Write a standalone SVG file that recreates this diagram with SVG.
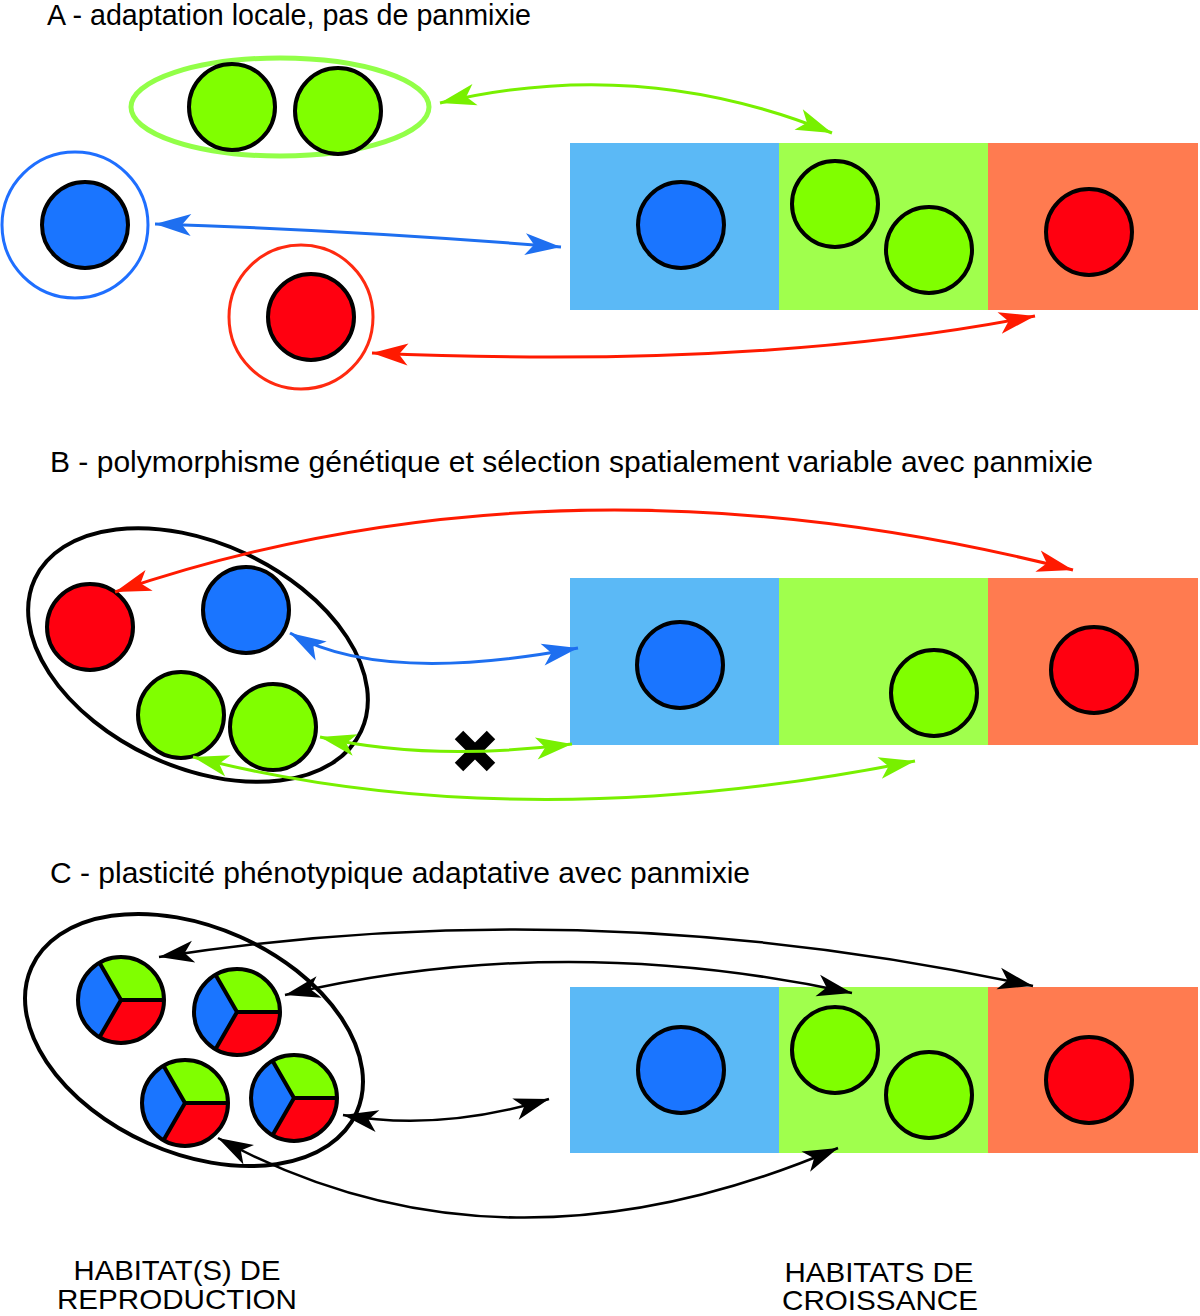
<svg xmlns="http://www.w3.org/2000/svg" width="1200" height="1316" viewBox="0 0 1200 1316">
<style>
.title{font-family:"Liberation Sans",Arial,sans-serif;font-size:29px;fill:#000}
.label{font-family:"Liberation Sans",Arial,sans-serif;font-size:28px;fill:#000}
.hb{fill:#5BB9F6}.hg{fill:#A0FF4D}.hr{fill:#FF7B50}
.cb{fill:#1A75FF;stroke:#000;stroke-width:4}
.cg{fill:#80FF00;stroke:#000;stroke-width:4}
.cr{fill:#FF0010;stroke:#000;stroke-width:4}
.arr{fill:none;stroke-width:3}
.ag{stroke:#78F000;marker-start:url(#mg);marker-end:url(#mg)}
.ab{stroke:#1E6FF0;marker-start:url(#mb);marker-end:url(#mb)}
.ar{stroke:#FF1A00;marker-start:url(#mr);marker-end:url(#mr)}
.ak{stroke:#000;stroke-width:2.5;marker-start:url(#mk);marker-end:url(#mk)}
</style>
<defs>
<marker id="mg" markerUnits="userSpaceOnUse" viewBox="-40 -15 42 30" markerWidth="42" markerHeight="30" refX="0" refY="0" orient="auto-start-reverse"><path d="M0,0 L-36,-11 L-27,0 L-36,11 Z" fill="#78F000"/></marker>
<marker id="mb" markerUnits="userSpaceOnUse" viewBox="-40 -15 42 30" markerWidth="42" markerHeight="30" refX="0" refY="0" orient="auto-start-reverse"><path d="M0,0 L-36,-11 L-27,0 L-36,11 Z" fill="#1E6FF0"/></marker>
<marker id="mr" markerUnits="userSpaceOnUse" viewBox="-40 -15 42 30" markerWidth="42" markerHeight="30" refX="0" refY="0" orient="auto-start-reverse"><path d="M0,0 L-36,-11 L-27,0 L-36,11 Z" fill="#FF1A00"/></marker>
<marker id="mk" markerUnits="userSpaceOnUse" viewBox="-40 -15 42 30" markerWidth="42" markerHeight="30" refX="0" refY="0" orient="auto-start-reverse"><path d="M0,0 L-35,-11 L-26,0 L-35,11 Z" fill="#000"/></marker>
<g id="pie">
<path d="M0,0 L-21.5,-37.24 A43,43 0 0 1 43,0 Z" fill="#80FF00"/>
<path d="M0,0 L43,0 A43,43 0 0 1 -21.5,37.24 Z" fill="#FF0010"/>
<path d="M0,0 L-21.5,37.24 A43,43 0 0 1 -21.5,-37.24 Z" fill="#1A75FF"/>
<path d="M43,0 L0,0 L-21.5,-37.24 M0,0 L-21.5,37.24" fill="none" stroke="#000" stroke-width="4"/>
<circle r="43" fill="none" stroke="#000" stroke-width="4"/>
</g>
</defs>
<rect width="1200" height="1316" fill="#fff"/>

<g id="titles">
<text class="title" x="47" y="25" textLength="484" lengthAdjust="spacingAndGlyphs">A - adaptation locale, pas de panmixie</text>
<text class="title" x="50" y="472" textLength="1043" lengthAdjust="spacingAndGlyphs">B - polymorphisme génétique et sélection spatialement variable avec panmixie</text>
<text class="title" x="50" y="883" textLength="700" lengthAdjust="spacingAndGlyphs">C - plasticité phénotypique adaptative avec panmixie</text>
</g>

<!-- Panel A -->
<g id="A-habitats">
<rect class="hb" x="570" y="143" width="209" height="167"/>
<rect class="hg" x="779" y="143" width="209" height="167"/>
<rect class="hr" x="988" y="143" width="210" height="167"/>
<circle class="cb" cx="681" cy="225" r="43"/>
<circle class="cg" cx="835" cy="204" r="43"/>
<circle class="cg" cx="929" cy="250" r="43"/>
<circle class="cr" cx="1089" cy="232" r="43"/>
</g>
<g id="A-green">
<ellipse cx="280" cy="107" rx="149" ry="49" fill="none" stroke="#92FF48" stroke-width="5"/>
<circle class="cg" cx="232" cy="107" r="43"/>
<circle class="cg" cx="338" cy="111" r="43"/>
</g>
<g id="A-blue">
<circle cx="75" cy="225" r="73" fill="none" stroke="#1F6FFF" stroke-width="3"/>
<circle class="cb" cx="85" cy="225" r="43"/>
</g>
<g id="A-red">
<circle cx="301" cy="317" r="72" fill="none" stroke="#FF2A10" stroke-width="3"/>
<circle class="cr" cx="311" cy="317" r="43"/>
</g>

<!-- Panel B -->
<g id="B-habitats">
<rect class="hb" x="570" y="578" width="209" height="167"/>
<rect class="hg" x="779" y="578" width="209" height="167"/>
<rect class="hr" x="988" y="578" width="210" height="167"/>
<circle class="cb" cx="680" cy="665" r="43"/>
<circle class="cg" cx="934" cy="693" r="43"/>
<circle class="cr" cx="1094" cy="670" r="43"/>
</g>
<g id="B-reproduction">
<ellipse cx="198" cy="655" rx="180" ry="112" transform="rotate(25 198 655)" fill="none" stroke="#000" stroke-width="4"/>
<circle class="cr" cx="90" cy="627" r="43"/>
<circle class="cb" cx="246" cy="610" r="43"/>
<circle class="cg" cx="181" cy="715" r="43"/>
<circle class="cg" cx="273" cy="727" r="43"/>
</g>
<g id="B-cross">
<path d="M459,735 L491,767 M491,735 L459,767" stroke="#000" stroke-width="12"/>
</g>

<!-- Panel C -->
<g id="C-habitats">
<rect class="hb" x="570" y="987" width="209" height="166"/>
<rect class="hg" x="779" y="987" width="209" height="166"/>
<rect class="hr" x="988" y="987" width="210" height="166"/>
<circle class="cb" cx="681" cy="1070" r="43"/>
<circle class="cg" cx="835" cy="1050" r="43"/>
<circle class="cg" cx="929" cy="1095" r="43"/>
<circle class="cr" cx="1089" cy="1080" r="43"/>
</g>
<g id="C-reproduction">
<ellipse cx="194" cy="1040" rx="178" ry="113" transform="rotate(24 194 1040)" fill="none" stroke="#000" stroke-width="4"/>
<use href="#pie" transform="translate(121 1000)"/>
<use href="#pie" transform="translate(237 1012)"/>
<use href="#pie" transform="translate(185 1103)"/>
<use href="#pie" transform="translate(294 1098)"/>
</g>

<g id="connectors">
<path class="arr ag" d="M440,103 Q640,55 832,133"/>
<path class="arr ab" d="M155,224 Q350,230 561,247"/>
<path class="arr ar" d="M372,353 Q760,370 1035,316"/>
<path class="arr ar" d="M115,592 Q560,440 1073,570"/>
<path class="arr ab" d="M290,633 Q380,685 578,648"/>
<path class="arr ag" d="M320,737 Q430,762 572,744"/>
<path class="arr ag" d="M193,757 Q520,840 915,761"/>
<path class="arr ak" d="M159,957 Q590,890 1033,986"/>
<path class="arr ak" d="M285,995 Q560,930 852,993"/>
<path class="arr ak" d="M343,1115 Q440,1132 549,1099"/>
<path class="arr ak" d="M218,1138 Q500,1292 838,1148"/>
</g>

<g id="labels">
<text class="label" x="177" y="1280" text-anchor="middle" textLength="207" lengthAdjust="spacingAndGlyphs">HABITAT(S) DE</text>
<text class="label" x="177" y="1309" text-anchor="middle" textLength="240" lengthAdjust="spacingAndGlyphs">REPRODUCTION</text>
<text class="label" x="879" y="1282" text-anchor="middle" textLength="189" lengthAdjust="spacingAndGlyphs">HABITATS DE</text>
<text class="label" x="880" y="1310" text-anchor="middle" textLength="196" lengthAdjust="spacingAndGlyphs">CROISSANCE</text>
</g>
</svg>
